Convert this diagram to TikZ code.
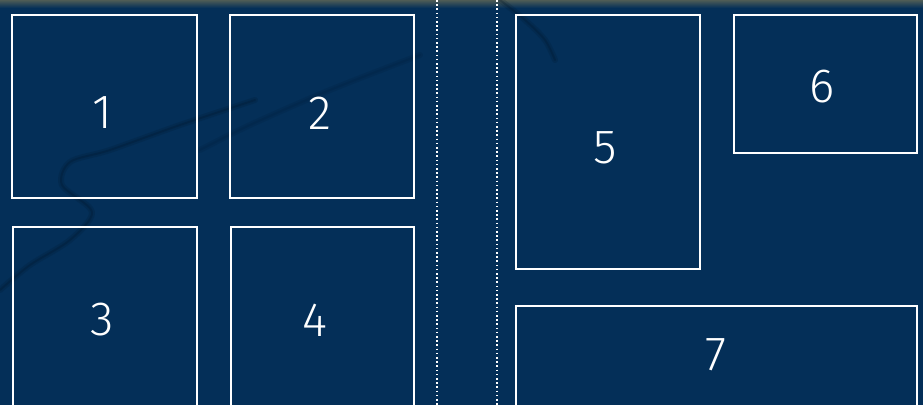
\documentclass[tikz,border=0pt]{standalone}
\usepackage{fontspec}
\setsansfont{Fira Sans}[UprightFont=* Light]
\definecolor{deepsea}{RGB}{4,47,88}
\definecolor{crackline}{RGB}{1,22,42}
\definecolor{topband}{RGB}{88,98,86}
\tikzset{
  panel/.style={draw=white, line width=2.8pt},
  num/.style={text=white, font=\sffamily\fontsize{48}{48}\selectfont, inner sep=0pt},
  divider/.style={white, line width=1.6pt, dash pattern=on 1.6pt off 2.6pt},
  crack/.style={crackline, line width=6pt, opacity=0.18, line cap=round, line join=round},
  crackcore/.style={crackline, line width=2pt, opacity=0.25, line cap=round, line join=round},
}

\begin{document}
\begin{tikzpicture}[x=1pt,y=-1pt]
  \useasboundingbox (0,0) rectangle (923,405);
  \clip (0,0) rectangle (923,405);
  % background
  \fill[deepsea] (0,0) rectangle (923,405);
  \shade[top color=topband, bottom color=deepsea] (0,-1) rectangle (923,8);
  % cracks in the backdrop
  \foreach \s in {crack,crackcore}{
    \draw[\s] plot[smooth] coordinates {(255,100) (180,125) (110,150) (70,162) (62,185) (92,212) (70,240) (30,265) (0,290)};
    \draw[\s, opacity=0.12] plot[smooth] coordinates {(420,55) (330,90) (250,125) (200,150)};
    \draw[\s] plot[smooth] coordinates {(500,0) (525,20) (545,40) (555,60)};
  }
  % left group
  \draw[panel] (12,15) rectangle (197,198);
  \node[num] (one) at (102,113) {1};
  \draw[panel] (230,15) rectangle (414,198);
  \node[num] (two) at (320,113) {2};
  \draw[panel] (13,227) rectangle (197,415);
  \node[num] (three) at (102,320) {3};
  \draw[panel] (231,227) rectangle (414,415);
  \node[num] (four) at (315,320) {4};
  % dividers
  \coordinate (lefttop) at (437,0);
  \coordinate (leftbot) at (437,405);
  \coordinate (righttop) at (497,0);
  \coordinate (rightbot) at (497,405);
  \draw[divider] (lefttop) -- (leftbot);
  \draw[divider] (righttop) -- (rightbot);
  % right group
  \draw[panel] (516,15) rectangle (700,269);
  \node[num] (five) at (605,148) {5};
  \draw[panel] (734,15) rectangle (917,153);
  \node[num] (six) at (822,87) {6};
  \draw[panel] (516,306) rectangle (917,415);
  \node[num] (seven) at (716,355) {7};
\end{tikzpicture}
\end{document}
